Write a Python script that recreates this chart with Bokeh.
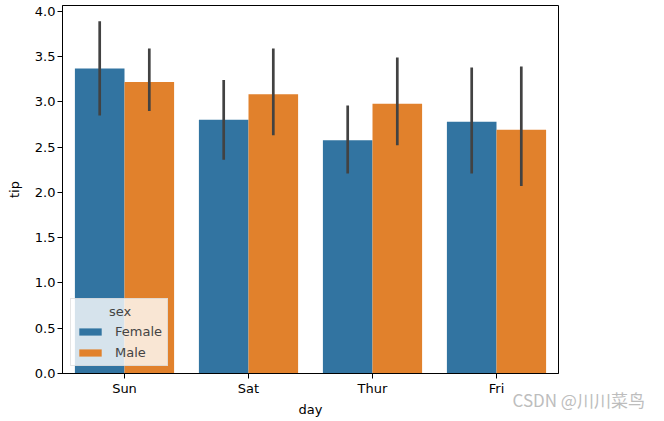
from bokeh.plotting import figure
from bokeh.models import (ColumnDataSource, FactorRange, Range1d, FixedTicker,
                          NumeralTickFormatter, Legend, LegendItem, Title)
from bokeh.transform import dodge
from bokeh.embed import file_html
from bokeh.resources import INLINE

days = ["Sun", "Sat", "Thur", "Fri"]
female_tip = [3.367, 2.801, 2.575, 2.781]
male_tip = [3.220, 3.084, 2.980, 2.693]
female_lo = [2.85, 2.36, 2.21, 2.21]
female_hi = [3.89, 3.24, 2.96, 3.38]
male_lo = [2.90, 2.63, 2.52, 2.07]
male_hi = [3.59, 3.59, 3.49, 3.39]
y_ticks = [0.0, 0.5, 1.0, 1.5, 2.0, 2.5, 3.0, 3.5, 4.0]
watermark = "CSDN @川川菜鸟"

FONT = "DejaVu Sans"
C_F = "#3274a1"
C_M = "#e1812c"

src = ColumnDataSource(dict(day=days, f=female_tip, m=male_tip,
                            flo=female_lo, fhi=female_hi,
                            mlo=male_lo, mhi=male_hi))

p = figure(width=650, height=418, x_range=FactorRange(*days),
           y_range=Range1d(0, 4.064), output_backend="svg",
           toolbar_location=None, min_border_left=62, min_border_right=92,
           min_border_top=5, min_border_bottom=44)

rf = p.vbar(x=dodge("day", -0.2, range=p.x_range), top="f", width=0.4,
            source=src, fill_color=C_F, line_color=None)
rm = p.vbar(x=dodge("day", 0.2, range=p.x_range), top="m", width=0.4,
            source=src, fill_color=C_M, line_color=None)
p.segment(x0=dodge("day", -0.2, range=p.x_range), y0="flo",
          x1=dodge("day", -0.2, range=p.x_range), y1="fhi",
          source=src, line_color="#424242", line_width=2.7)
p.segment(x0=dodge("day", 0.2, range=p.x_range), y0="mlo",
          x1=dodge("day", 0.2, range=p.x_range), y1="mhi",
          source=src, line_color="#424242", line_width=2.7)

p.xgrid.visible = False
p.ygrid.visible = False
p.outline_line_color = "black"
p.outline_line_width = 1
p.outline_line_alpha = 1

p.yaxis.ticker = FixedTicker(ticks=y_ticks)
p.yaxis.formatter = NumeralTickFormatter(format="0.0")
for ax in (p.xaxis[0], p.yaxis[0]):
    ax.axis_line_color = "black"
    ax.major_tick_line_color = "black"
    ax.minor_tick_line_color = None
    ax.major_tick_in = 0
    ax.major_tick_out = 5
    ax.major_label_text_font = FONT
    ax.major_label_text_font_size = "13px"
    ax.major_label_text_color = "black"
    ax.axis_label_text_font = FONT
    ax.axis_label_text_font_size = "13px"
    ax.axis_label_text_font_style = "normal"
    ax.axis_label_text_color = "black"
p.yaxis.axis_label = "tip"
p.xaxis.major_label_standoff = 2
p.yaxis.major_label_standoff = 2
p.yaxis.axis_label_standoff = 10

NB = "\u00a0"
legend = Legend(items=[LegendItem(label="Female", renderers=[rf]),
                       LegendItem(label="Male", renderers=[rm])],
                location=(8, 7), glyph_width=28, glyph_height=9,
                label_text_font=FONT, label_text_font_size="13px",
                label_height=14, label_standoff=11, spacing=6, padding=5,
                margin=0, background_fill_alpha=0.8,
                border_line_color="#cccccc",
                title=NB * 8 + "sex", title_text_font_size="13px",
                title_text_font=FONT, title_text_font_style="normal",
                title_standoff=5)
p.add_layout(legend, "center")

wm = Title(text=watermark, text_font="Noto Sans CJK SC",
           text_font_size="17px", text_color="#bdbdbd",
           text_font_style="normal", align="left", offset=450,
           vertical_align="top", standoff=-24)
p.add_layout(wm, "below")

day_title = Title(text="day", text_font=FONT, text_font_size="13px",
                  text_color="black", text_font_style="normal",
                  align="center", vertical_align="top", standoff=0)
p.add_layout(day_title, "below")

open("out.html", "w").write(file_html(p, INLINE))
